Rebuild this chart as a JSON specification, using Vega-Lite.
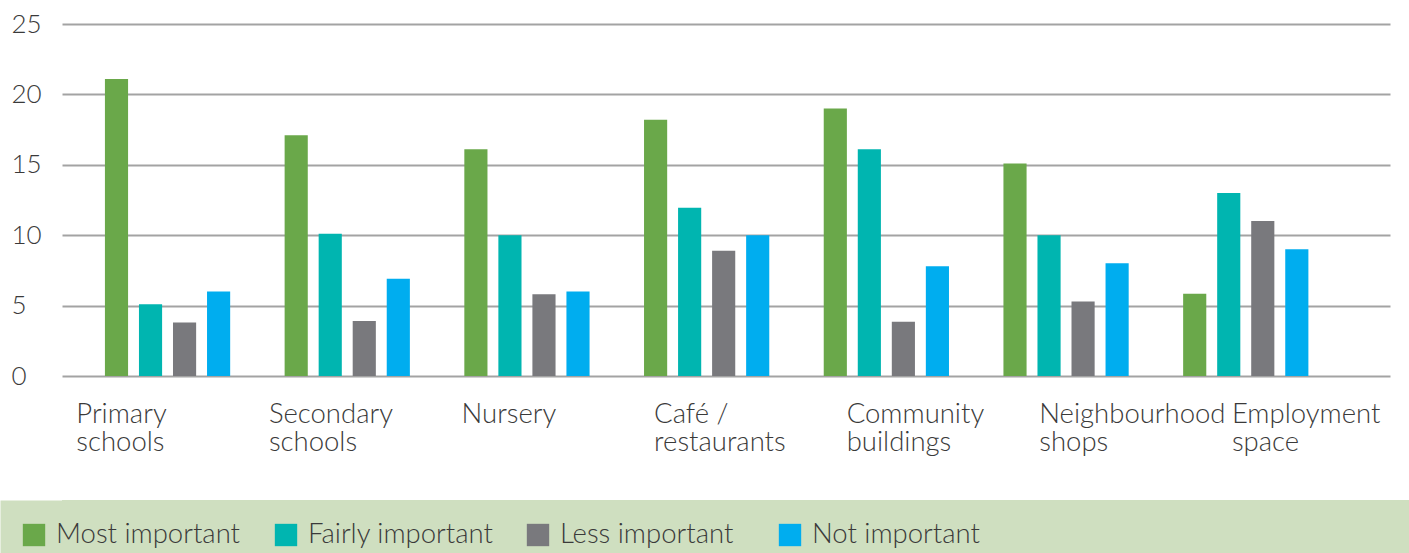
{
  "$schema": "https://vega.github.io/schema/vega-lite/v6.json",
  "padding": {"top": 11, "left": 0, "right": 0, "bottom": 0},
  "autosize": {"type": "pad"},
  "background": "white",
  "config": {"view": {"stroke": null}, "font": "Lato"},
  "datasets": {
    "survey": [
      {"Category": "Primary schools", "Importance": "Most important", "Value": 21.1},
      {"Category": "Primary schools", "Importance": "Fairly important", "Value": 5.1},
      {"Category": "Primary schools", "Importance": "Less important", "Value": 3.8},
      {"Category": "Primary schools", "Importance": "Not important", "Value": 6.0},
      {"Category": "Secondary schools", "Importance": "Most important", "Value": 17.1},
      {"Category": "Secondary schools", "Importance": "Fairly important", "Value": 10.1},
      {"Category": "Secondary schools", "Importance": "Less important", "Value": 3.9},
      {"Category": "Secondary schools", "Importance": "Not important", "Value": 6.9},
      {"Category": "Nursery", "Importance": "Most important", "Value": 16.1},
      {"Category": "Nursery", "Importance": "Fairly important", "Value": 10.0},
      {"Category": "Nursery", "Importance": "Less important", "Value": 5.8},
      {"Category": "Nursery", "Importance": "Not important", "Value": 6.0},
      {"Category": "Café / restaurants", "Importance": "Most important", "Value": 18.2},
      {"Category": "Café / restaurants", "Importance": "Fairly important", "Value": 11.95},
      {"Category": "Café / restaurants", "Importance": "Less important", "Value": 8.9},
      {"Category": "Café / restaurants", "Importance": "Not important", "Value": 10.0},
      {"Category": "Community buildings", "Importance": "Most important", "Value": 19.0},
      {"Category": "Community buildings", "Importance": "Fairly important", "Value": 16.1},
      {"Category": "Community buildings", "Importance": "Less important", "Value": 3.85},
      {"Category": "Community buildings", "Importance": "Not important", "Value": 7.8},
      {"Category": "Neighbourhood shops", "Importance": "Most important", "Value": 15.1},
      {"Category": "Neighbourhood shops", "Importance": "Fairly important", "Value": 10.0},
      {"Category": "Neighbourhood shops", "Importance": "Less important", "Value": 5.3},
      {"Category": "Neighbourhood shops", "Importance": "Not important", "Value": 8.0},
      {"Category": "Employment space", "Importance": "Most important", "Value": 5.85},
      {"Category": "Employment space", "Importance": "Fairly important", "Value": 13.0},
      {"Category": "Employment space", "Importance": "Less important", "Value": 11.0},
      {"Category": "Employment space", "Importance": "Not important", "Value": 9.0}
    ],
    "keys": [
      {"Importance": "Most important"},
      {"Importance": "Fairly important"},
      {"Importance": "Less important"},
      {"Importance": "Not important"}
    ]
  },
  "resolve": {"scale": {"x": "independent", "y": "independent"}},
  "spacing": 0,
  "vconcat": [
    {
      "width": 1328,
      "height": 352,
      "data": {"name": "survey"},
      "resolve": {"scale": {"x": "independent"}, "axis": {"x": "independent"}},
      "layer": [
        {
          "mark": {"type": "bar"},
          "encoding": {
            "x": {
              "field": "Category",
              "type": "nominal",
              "sort": ["Primary schools", "Secondary schools", "Nursery", "Café / restaurants", "Community buildings", "Neighbourhood shops", "Employment space"],
              "scale": {"paddingInner": 0, "paddingOuter": 0.195, "align": 0.224},
              "axis": null
            },
            "xOffset": {
              "field": "Importance",
              "type": "nominal",
              "sort": ["Most important", "Fairly important", "Less important", "Not important"],
              "scale": {"paddingInner": 0.32, "paddingOuter": 0.8}
            },
            "y": {
              "field": "Value",
              "type": "quantitative",
              "scale": {"domain": [0, 25], "nice": false},
              "axis": {
                "title": null,
                "values": [0, 5, 10, 15, 20, 25],
                "labelAlign": "left",
                "labelBaseline": "middle",
                "labelPadding": 51,
                "ticks": false,
                "tickSize": 0,
                "domain": false,
                "grid": true,
                "gridColor": "#a3a3a3",
                "gridWidth": 2,
                "labelFont": "Lato",
                "labelFontSize": 26,
                "labelFontWeight": 300,
                "labelColor": "#3a3a3a",
                "minExtent": 62,
                "maxExtent": 62
              }
            },
            "color": {
              "field": "Importance",
              "type": "nominal",
              "scale": {
                "domain": ["Most important", "Fairly important", "Less important", "Not important"],
                "range": ["#6aa84a", "#00b5b0", "#79797d", "#00adef"]
              },
              "legend": null
            }
          }
        },
        {
          "mark": {"type": "point", "opacity": 0},
          "encoding": {
            "x": {
              "field": "Category",
              "type": "nominal",
              "sort": ["Primary schools", "Secondary schools", "Nursery", "Café / restaurants", "Community buildings", "Neighbourhood shops", "Employment space"],
              "scale": {"type": "point", "padding": 0.4476, "align": 0.08},
              "axis": {
                "orient": "bottom",
                "title": null,
                "labelAngle": 0,
                "labelAlign": "left",
                "labelBaseline": "top",
                "labelPadding": 24,
                "ticks": false,
                "tickSize": 0,
                "domain": false,
                "grid": false,
                "labelFont": "Lato",
                "labelFontSize": 27.5,
                "labelFontWeight": 300,
                "labelColor": "#3a3a3a",
                "labelLineHeight": 28.5,
                "labelLimit": 0,
                "labelOverlap": false,
                "labelExpr": "split(replace(datum.value, ' /', '\u00a0/'), ' ')",
                "minExtent": 124,
                "maxExtent": 124
              }
            },
            "y": {"field": "Value", "type": "quantitative"}
          }
        }
      ]
    },
    {
      "width": 1347,
      "height": 70,
      "view": {"fill": "#cfdfc0", "stroke": null},
      "data": {"name": "keys"},
      "encoding": {
        "x": {
          "field": "Importance",
          "type": "nominal",
          "sort": ["Most important", "Fairly important", "Less important", "Not important"],
          "scale": {"type": "point", "padding": 0, "range": [-28, 728]},
          "axis": null
        },
        "y": {
          "datum": "key",
          "type": "nominal",
          "axis": {
            "title": null,
            "labels": false,
            "ticks": false,
            "grid": false,
            "domain": true,
            "domainColor": "#cfdfc0",
            "domainWidth": 124,
            "domainCap": "butt"
          }
        }
      },
      "layer": [
        {
          "mark": {"type": "square", "size": 500, "filled": true, "opacity": 1},
          "encoding": {
            "color": {
              "field": "Importance",
              "type": "nominal",
              "scale": {
                "domain": ["Most important", "Fairly important", "Less important", "Not important"],
                "range": ["#6aa84a", "#00b5b0", "#79797d", "#00adef"]
              },
              "legend": null
            }
          }
        },
        {
          "mark": {"type": "text", "align": "left", "baseline": "middle", "dx": 22, "fontSize": 27.5, "font": "Lato", "fontWeight": 300, "color": "#3a3a3a"},
          "encoding": {"text": {"field": "Importance", "type": "nominal"}}
        }
      ]
    }
  ]
}
